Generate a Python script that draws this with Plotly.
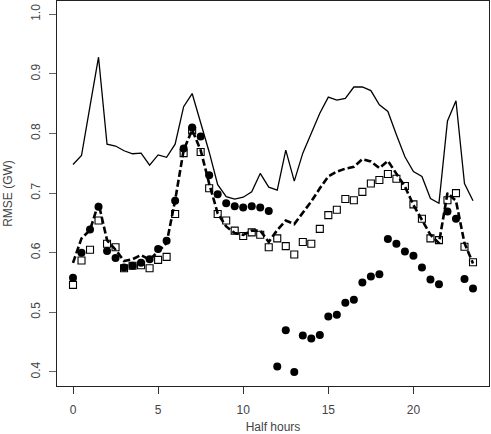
import plotly.graph_objects as go

half_hours = [i * 0.5 for i in range(48)]

solid_line = [0.748, 0.763, 0.846, 0.928, 0.782, 0.779, 0.771, 0.766, 0.767, 0.747,
              0.764, 0.760, 0.782, 0.845, 0.867, 0.817, 0.769, 0.714, 0.694, 0.690,
              0.693, 0.702, 0.733, 0.710, 0.705, 0.772, 0.720, 0.767, 0.800, 0.834,
              0.861, 0.856, 0.859, 0.878, 0.878, 0.872, 0.848, 0.837, 0.798, 0.761,
              0.736, 0.728, 0.691, 0.683, 0.821, 0.855, 0.716, 0.687]

dashed_line = [0.583, 0.624, 0.638, 0.683, 0.621, 0.605, 0.586, 0.589, 0.596, 0.588,
               0.602, 0.616, 0.688, 0.772, 0.806, 0.772, 0.716, 0.666, 0.644, 0.633,
               0.630, 0.637, 0.637, 0.618, 0.638, 0.654, 0.648, 0.666, 0.686, 0.708,
               0.728, 0.736, 0.741, 0.744, 0.757, 0.753, 0.742, 0.754, 0.732, 0.711,
               0.680, 0.655, 0.630, 0.616, 0.700, 0.687, 0.616, 0.582]

squares = [0.546, 0.587, 0.605, 0.654, 0.615, 0.609, 0.574, 0.578, 0.579, 0.574,
           0.588, 0.593, 0.665, 0.767, 0.805, 0.769, 0.708, 0.665, 0.654, 0.637,
           0.628, 0.634, 0.630, 0.609, 0.624, 0.611, 0.597, 0.618, 0.615, 0.640,
           0.663, 0.672, 0.690, 0.688, 0.702, 0.716, 0.722, 0.732, 0.724, 0.712,
           0.681, 0.657, 0.624, 0.621, 0.688, 0.700, 0.610, 0.584]

circles = [0.558, 0.600, 0.639, 0.677, 0.603, 0.591, 0.575, 0.578, 0.583, 0.589,
           0.606, 0.620, 0.687, 0.775, 0.810, 0.795, 0.730, 0.698, 0.683, 0.678,
           0.676, 0.678, 0.676, 0.670, 0.409, 0.470, 0.400, 0.461, 0.456, 0.462,
           0.493, 0.496, 0.516, 0.521, 0.550, 0.560, 0.564, 0.623, 0.615, 0.602,
           0.595, 0.575, 0.555, 0.547, 0.669, 0.657, 0.556, 0.540]

x_ticks = [0, 5, 10, 15, 20]
y_ticks = [0.4, 0.5, 0.6, 0.7, 0.8, 0.9, 1.0]
y_tick_text = ["0.4", "0.5", "0.6", "0.7", "0.8", "0.9", "1.0"]

fig = go.Figure()
fig.add_trace(go.Scatter(x=half_hours, y=solid_line, mode="lines",
                         line=dict(color="black", width=1.3), showlegend=False))
fig.add_trace(go.Scatter(x=half_hours, y=dashed_line, mode="lines",
                         line=dict(color="black", width=2.6, dash="7px,3px"), showlegend=False))
fig.add_trace(go.Scatter(x=half_hours, y=squares, mode="markers",
                         marker=dict(symbol="square-open", size=7, color="black",
                                     line=dict(width=1.1, color="black")), showlegend=False))
fig.add_trace(go.Scatter(x=half_hours, y=circles, mode="markers",
                         marker=dict(symbol="circle", size=8, color="black",
                                     line=dict(width=0)), showlegend=False))

font = dict(family="Liberation Sans, Arial, sans-serif", size=12, color="#444")

fig.update_layout(
    width=491, height=434,
    margin=dict(l=57, r=2, t=1, b=48, autoexpand=False),
    plot_bgcolor="white", paper_bgcolor="white",
    font=font,
    xaxis=dict(range=[-0.94, 24.44], tickvals=x_ticks, ticks="outside", ticklen=7,
               tickcolor="#333", tickwidth=1, showline=True, linecolor="#222", linewidth=1.3,
               mirror=True, showgrid=False, zeroline=False, ticklabelstandoff=5,
               automargin=False,
               title=dict(text="Half hours", standoff=8, font=font)),
    yaxis=dict(range=[0.3763, 1.0223], tickvals=y_ticks, ticktext=y_tick_text,
               ticks="outside", ticklen=7, tickcolor="#666", tickwidth=1,
               tickangle=-90, showline=True, linecolor="#222", linewidth=1.3,
               mirror=True, showgrid=False, zeroline=False, ticklabelstandoff=4,
               automargin=False,
               title=dict(text="RMSE (GW)", standoff=13, font=font)),
)

fig.write_html("out.html", config={"displayModeBar": False},
               post_script="document.body.style.margin='0';document.body.style.padding='0';")
